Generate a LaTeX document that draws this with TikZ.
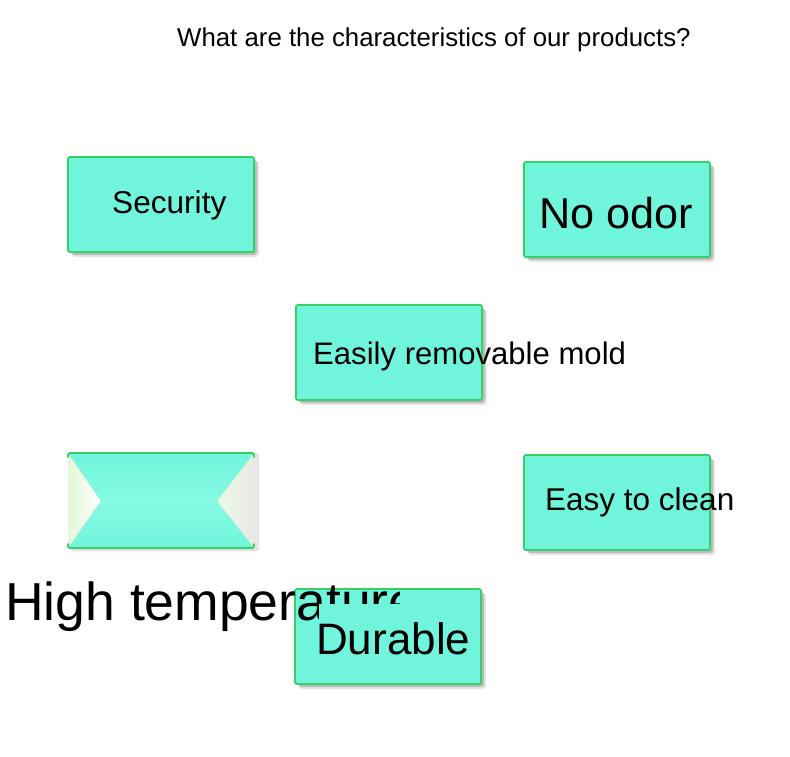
\documentclass[tikz,border=0pt]{standalone}
\usepackage{fontspec}
\setmainfont{Liberation Sans}
\definecolor{boxfill}{HTML}{70F5DC}
\definecolor{boxfillhi}{HTML}{86FAE4}
\definecolor{boxline}{HTML}{36D067}
\definecolor{palegreen}{HTML}{E4F7D8}
\definecolor{palegray}{HTML}{E6E6E6}
\tikzset{
  card/.style={draw=boxline, line width=1.8pt, fill=boxfill, rounded corners=2pt},
  cardshadow/.style={fill=black, opacity=0.18, rounded corners=3pt},
  lbl/.style={anchor=base west, inner sep=0pt, text=black},
}
\newcommand{\fsz}[1]{\fontsize{#1pt}{#1pt}\selectfont}
\begin{document}
\begin{tikzpicture}[x=1pt,y=-1pt]
\useasboundingbox (0,0) rectangle (790,757);
\fill[white] (0,0) rectangle (790,757);

% title
\node[lbl] (title) at (177,47) {\fsz{25.8}What are the characteristics of our products?};

% Security
\fill[cardshadow] (71,160) rectangle (257,255);
\fill[cardshadow,opacity=0.1] (72,161) rectangle (259,257);
\draw[card] (68,157) rectangle (254,252);
\node[lbl] (security) at (112,213) {\fsz{31.6}Security};

% No odor
\fill[cardshadow] (527,165) rectangle (713,260);
\fill[cardshadow,opacity=0.1] (528,166) rectangle (715,262);
\draw[card] (524,162) rectangle (710,257);
\node[lbl] (noodor) at (539,228) {\fsz{43.2}No odor};

% Easily removable mold
\fill[cardshadow] (299,308) rectangle (485,403);
\fill[cardshadow,opacity=0.1] (300,309) rectangle (487,405);
\draw[card] (296,305) rectangle (482,400);
\begin{scope}
\clip (290,290) rectangle (626,420);
\node[lbl] (mold) at (313,364) {\fsz{31.1}Easily removable mold};
\end{scope}

% Easy to clean
\fill[cardshadow] (527,458) rectangle (713,553);
\fill[cardshadow,opacity=0.1] (528,459) rectangle (715,555);
\draw[card] (524,455) rectangle (710,550);
\begin{scope}
\clip (500,440) rectangle (734,560);
\node[lbl] (clean) at (545,510) {\fsz{31.5}Easy to clean};
\end{scope}

% High temperature box (hourglass)
\fill[cardshadow,opacity=0.12] (71,456) rectangle (259,551);
\fill[palegray] (68,453) rectangle (259,548);
\shade[left color=palegreen, right color=white] (68,453) -- (101,501) -- (68,548) -- cycle;
\shade[left color=palegreen!70!white, right color=palegray] (254,453) -- (217,501) -- (254,548) -- (259,548) -- (259,453) -- cycle;
\shade[top color=boxfill, bottom color=boxfill, middle color=boxfillhi]
  (68,453) -- (254,453) -- (217,501) -- (254,548) -- (68,548) -- (101,501) -- cycle;
\draw[boxline!35, line width=0.5pt] (68,453) -- (101,501) -- (68,548);
\draw[boxline!35, line width=0.5pt] (254,453) -- (217,501) -- (254,548);
\draw[boxline, line width=1.8pt, line cap=round, rounded corners=2pt] (68,457) -- (68,453) -- (254,453) -- (254,457);
\draw[boxline, line width=1.8pt, line cap=round, rounded corners=2pt] (68,544) -- (68,548) -- (254,548) -- (254,544);
\coordinate (hightempbox) at (161,500);

% Durable box
\fill[cardshadow] (298,592) rectangle (484,687);
\fill[cardshadow,opacity=0.1] (299,593) rectangle (486,689);
\draw[card] (295,589) rectangle (481,684);

% High temperature label (clipped, partly hidden by the Durable box)
\begin{scope}
\clip (0,560) -- (399,560) -- (399,603) -- (318,603) -- (318,640) -- (0,640) -- cycle;
\node[lbl] (hightemp) at (5,620) {\fsz{53.5}High temperature};
\end{scope}

\node[lbl] (durable) at (316,654) {\fsz{44}Durable};
\end{tikzpicture}
\end{document}
